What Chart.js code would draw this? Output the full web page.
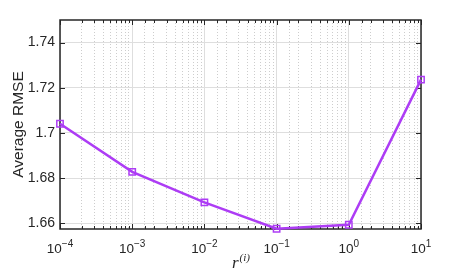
<!DOCTYPE html>
<html>
<head>
<meta charset="utf-8">
<script src="https://cdn.jsdelivr.net/npm/chart.js@4/dist/chart.umd.min.js"></script>
<style>
  html,body{margin:0;padding:0;background:#fff;}
  #wrap{width:465px;height:276px;}
</style>
</head>
<body>
<div id="wrap"><canvas id="c"></canvas></div>
<script>
// data
const rValues = [1e-4, 1e-3, 1e-2, 1e-1, 1e0, 1e1];
const avgRmse = [1.7041, 1.6828, 1.6693, 1.6576, 1.6594, 1.7236];
const xExponents = ['\u22124', '\u22123', '\u22122', '\u22121', '0', '1'];
const yTicks = [1.66, 1.68, 1.70, 1.72, 1.74];
const yLabels = ['1.66', '1.68', '1.7', '1.72', '1.74'];

const lineColor = '#ad3cf5';
const axisColor = '#262626';
const sans = 'Liberation Sans, Arial, sans-serif';
const serif = 'Liberation Serif, DejaVu Serif, serif';

// matlab-ish box with inward ticks, power-of-ten labels and the x label
const boxPlugin = {
  id: 'box',
  beforeDatasetsDraw(chart){
    const {ctx, chartArea:a, scales} = chart;
    const xs = scales.x, ys = scales.y;
    ctx.save();
    ctx.strokeStyle = axisColor;
    ctx.lineWidth = 1;
    ctx.beginPath();
    xs.ticks.forEach(t=>{
      const px = Math.round(xs.getPixelForValue(t.value)) + 0.5;
      const len = t.major ? 5 : 3;
      ctx.moveTo(px, a.bottom); ctx.lineTo(px, a.bottom - len);
      ctx.moveTo(px, a.top); ctx.lineTo(px, a.top + len);
    });
    ys.ticks.forEach(t=>{
      const py = Math.round(ys.getPixelForValue(t.value)) + 0.5;
      ctx.moveTo(a.left, py); ctx.lineTo(a.left + 5, py);
      ctx.moveTo(a.right, py); ctx.lineTo(a.right - 5, py);
    });
    ctx.stroke();
    ctx.lineWidth = 1.5;
    ctx.strokeRect(a.left, a.top, a.right - a.left, a.bottom - a.top);

    // x tick labels 10^n
    ctx.fillStyle = axisColor;
    ctx.textBaseline = 'alphabetic';
    ctx.textAlign = 'left';
    rValues.forEach((v,i)=>{
      const px = xs.getPixelForValue(v);
      ctx.font = '13.5px ' + sans;
      const wBase = ctx.measureText('10').width;
      ctx.font = '10px ' + sans;
      const wExp = ctx.measureText(xExponents[i]).width;
      const x0 = px - (wBase + wExp) / 2;
      ctx.font = '13.5px ' + sans;
      ctx.fillText('10', x0, a.bottom + 24);
      ctx.font = '10px ' + sans;
      ctx.fillText(xExponents[i], x0 + wBase, a.bottom + 17.5);
    });

    // x axis label r^(i)
    ctx.font = 'italic 17px ' + serif;
    const wr = ctx.measureText('r').width;
    ctx.font = 'italic 11px ' + serif;
    const wi = ctx.measureText('(i)').width;
    const cx = (a.left + a.right) / 2;
    const xr = cx - (wr + wi) / 2;
    ctx.font = 'italic 17px ' + serif;
    ctx.fillText('r', xr, a.bottom + 39);
    ctx.font = 'italic 11px ' + serif;
    ctx.fillText('(i)', xr + wr + 1, a.bottom + 32);
    ctx.restore();
  }
};

new Chart(document.getElementById('c'), {
  type: 'line',
  data: {
    datasets: [{
      data: rValues.map((r,i)=>({x:r, y:avgRmse[i]})),
      borderColor: lineColor,
      borderWidth: 2.5,
      pointStyle: 'rect',
      pointRadius: 4.5,
      pointBorderWidth: 1.5,
      pointBorderColor: lineColor,
      pointBackgroundColor: 'rgba(0,0,0,0)',
      tension: 0,
      clip: false
    }]
  },
  options: {
    responsive: true,
    maintainAspectRatio: false,
    animation: false,
    layout: { padding: { top: 20, right: 44, left: 0, bottom: 0 } },
    plugins: { legend: {display:false}, tooltip: {enabled:false} },
    scales: {
      x: {
        type: 'logarithmic',
        min: 1e-4, max: 10,
        afterFit(s){ s.height = 47; },
        grid: {
          drawTicks: false,
          color: c => c.tick && c.tick.major ? '#dedede' : '#cdcdcd',
          lineWidth: 1
        },
        border: { display: false, dash: c => c.tick && c.tick.major ? [] : [1, 2] },
        ticks: { display: false, autoSkip: false }
      },
      y: {
        min: 1.6575, max: 1.75,
        afterFit(s){ s.width = 60; },
        afterBuildTicks(s){ s.ticks = yTicks.map(v=>({value:v})); },
        grid: { drawTicks: false, color: '#dedede', lineWidth: 1 },
        border: { display: false },
        ticks: {
          padding: 5,
          color: axisColor,
          font: { family: sans, size: 14 },
          callback: (v, i) => yLabels[i]
        },
        title: {
          display: true,
          text: 'Average RMSE',
          color: axisColor,
          padding: { top: 9, bottom: 0 },
          font: { family: sans, size: 15.5 }
        }
      }
    }
  },
  plugins: [boxPlugin]
});
</script>
</body>
</html>
